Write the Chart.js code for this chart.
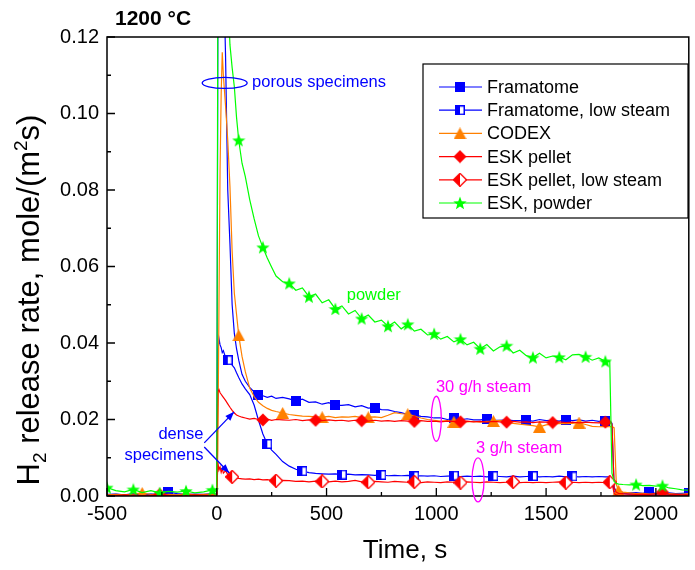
<!DOCTYPE html>
<html>
<head>
<meta charset="utf-8">
<script src="https://cdn.jsdelivr.net/npm/chart.js@4.4.1/dist/chart.umd.min.js"></script>
<style>
  html, body { margin: 0; padding: 0; background: #fff; }
  canvas { display: block; }
</style>
</head>
<body>
<canvas id="h2Chart" width="695" height="570"></canvas>
<script>
// time axis shared by all runs, s
const timeS = [
  -500, -460, -420, -380, -340, -300, -260, -220, -180, -140, -100, -60, -20,
  -5, 0, 5, 10, 15, 20, 25, 30, 40, 50, 60, 70, 80, 90, 100, 115, 130, 150, 170, 190, 210, 230, 250, 270, 300,
  330, 360, 390, 420, 450, 480, 510, 540, 570, 600, 630, 660, 690, 720, 750, 780, 810, 840, 870, 900,
  930, 960, 990, 1020, 1050, 1080, 1110, 1140, 1170, 1200, 1230, 1260, 1290, 1320, 1350, 1380, 1410,
  1440, 1470, 1500, 1530, 1560, 1590, 1620, 1650, 1680, 1710, 1740, 1770,
  1790, 1800, 1810, 1820, 1830, 1850,
  1880, 1910, 1940, 1970, 2000, 2030, 2060, 2090, 2120, 2150
];

// H2 release rate, mole/(m2 s)
const frRate = [
  0.0004, 0.0005, 0.0003, 0.0006, 0.0004, 0.0005, 0.0004, 0.0010, 0.0006, 0.0004, 0.0005, 0.0004, 0.0006,
  0.0005, 0.0006, 0.125, 0.150, 0.155, 0.155, 0.150, 0.140, 0.115, 0.080, 0.066, 0.050, 0.0425, 0.0385, 0.0355, 0.0318, 0.0300, 0.0284, 0.0272, 0.0264, 0.0262, 0.0258, 0.0261, 0.0255, 0.0258,
  0.0254, 0.0249, 0.0253, 0.0245, 0.0246, 0.0240, 0.0244, 0.0237, 0.0237, 0.0239, 0.0233, 0.0236, 0.0230, 0.0231, 0.0226, 0.0225, 0.0221, 0.0218, 0.0213, 0.0212,
  0.0208, 0.0207, 0.0204, 0.0204, 0.0200, 0.0203, 0.0199, 0.0202, 0.0199, 0.0199, 0.0201, 0.0198, 0.0198, 0.0199, 0.0197, 0.0197, 0.0198,
  0.0196, 0.0200, 0.0197, 0.0198, 0.0196, 0.0200, 0.0197, 0.0199, 0.0196, 0.0198, 0.0195, 0.0197,
  0.0196, 0.0190, 0.0022, 0.0012, 0.0010, 0.0009,
  0.0008, 0.0009, 0.0007, 0.0010, 0.0007, 0.0006, 0.0008, 0.0006, 0.0007, 0.0008
];
const frLowRate = [
  0.0003, 0.0004, 0.0003, 0.0004, 0.0003, 0.0004, 0.0003, 0.0004, 0.0003, 0.0004, 0.0003, 0.0003, 0.0004,
  0.0004, 0.0004, 0.0380, 0.0412, 0.0395, 0.0388, 0.0375, 0.0380, 0.0362, 0.0355, 0.0350, 0.0342, 0.0335, 0.0322, 0.0310, 0.0293, 0.0280, 0.0265, 0.0238, 0.0198, 0.0162, 0.0136, 0.0120, 0.0109, 0.0090,
  0.0078, 0.0070, 0.0065, 0.0061, 0.0059, 0.0058, 0.0057, 0.0058, 0.0056, 0.0057, 0.0055, 0.0056, 0.0055, 0.0054, 0.0055, 0.0053, 0.0054, 0.0053, 0.0054, 0.0052,
  0.0053, 0.0052, 0.0053, 0.0051, 0.0052, 0.0053, 0.0051, 0.0052, 0.0051, 0.0052, 0.0050, 0.0052, 0.0051, 0.0050, 0.0052, 0.0050, 0.0051,
  0.0052, 0.0050, 0.0051, 0.0050, 0.0052, 0.0050, 0.0051, 0.0050, 0.0051, 0.0050, 0.0051, 0.0050,
  0.0050, 0.0045, 0.0012, 0.0008, 0.0007, 0.0006,
  0.0005, 0.0006, 0.0005, 0.0004, 0.0005, 0.0004, 0.0005, 0.0004, 0.0005, 0.0004
];
const codexRate = [
  0.0003, 0.0004, 0.0003, 0.0005, 0.0008, 0.0004, 0.0003, 0.0004, 0.0003, 0.0006, 0.0003, 0.0004, 0.0005,
  0.0004, 0.0005, 0.0120, 0.0500, 0.0850, 0.1050, 0.1160, 0.1100, 0.1020, 0.0930, 0.0810, 0.0640, 0.0530, 0.0475, 0.0420, 0.0365, 0.0325, 0.0282, 0.0260, 0.0245, 0.0236, 0.0229, 0.0224, 0.0221, 0.0217,
  0.0213, 0.0211, 0.0209, 0.0208, 0.0207, 0.0206, 0.0208, 0.0205, 0.0207, 0.0206, 0.0208, 0.0205, 0.0206, 0.0207, 0.0205, 0.0211, 0.0218, 0.0215, 0.0214, 0.0209,
  0.0204, 0.0200, 0.0198, 0.0196, 0.0197, 0.0194, 0.0196, 0.0194, 0.0195, 0.0193, 0.0195, 0.0196, 0.0198, 0.0193, 0.0190, 0.0188, 0.0186,
  0.0184, 0.0181, 0.0186, 0.0188, 0.0190, 0.0189, 0.0190, 0.0192, 0.0187, 0.0182, 0.0181, 0.0182,
  0.0181, 0.0182, 0.0178, 0.0030, 0.0014, 0.0010,
  0.0008, 0.0006, 0.0007, 0.0005, 0.0006, 0.0005, 0.0006, 0.0005, 0.0005, 0.0006
];
const eskRate = [
  0.0002, 0.0001, 0.0003, 0.0002, 0.0001, 0.0002, 0.0004, 0.0002, 0.0001, 0.0002, 0.0003, 0.0002, 0.0002,
  0.0002, 0.0003, 0.0272, 0.0278, 0.0270, 0.0266, 0.0262, 0.0258, 0.0250, 0.0241, 0.0232, 0.0224, 0.0217, 0.0212, 0.0209, 0.0206, 0.0204, 0.0201, 0.0203, 0.0200, 0.0199, 0.0201, 0.0198, 0.0200, 0.0199,
  0.0198, 0.0200, 0.0197, 0.0199, 0.0198, 0.0197, 0.0199, 0.0197, 0.0198, 0.0196, 0.0198, 0.0197, 0.0196, 0.0198, 0.0196, 0.0197, 0.0195, 0.0197, 0.0196, 0.0195,
  0.0197, 0.0195, 0.0196, 0.0194, 0.0196, 0.0195, 0.0194, 0.0196, 0.0194, 0.0195, 0.0193, 0.0195, 0.0194, 0.0193, 0.0195, 0.0193, 0.0194,
  0.0192, 0.0194, 0.0193, 0.0192, 0.0194, 0.0192, 0.0193, 0.0191, 0.0193, 0.0192, 0.0191, 0.0193,
  0.0192, 0.0188, 0.0020, 0.0010, 0.0007, 0.0006,
  0.0005, 0.0004, 0.0005, 0.0004, 0.0006, 0.0010, 0.0005, 0.0004, 0.0003, 0.0004
];
const eskLowRate = [
  0.0001, 0.0002, 0.0001, 0.0002, 0.0001, 0.0002, 0.0001, 0.0002, 0.0001, 0.0002, 0.0001, 0.0002, 0.0001,
  0.0001, 0.0002, 0.0088, 0.0068, 0.0076, 0.0062, 0.0072, 0.0060, 0.0066, 0.0056, 0.0053, 0.0050, 0.0049, 0.0047, 0.0046, 0.0045, 0.0044, 0.0045, 0.0043, 0.0044, 0.0042, 0.0043, 0.0041, 0.0040, 0.0041,
  0.0040, 0.0038, 0.0039, 0.0037, 0.0039, 0.0038, 0.0037, 0.0039, 0.0037, 0.0038, 0.0041, 0.0037, 0.0036, 0.0038, 0.0037, 0.0036, 0.0038, 0.0037, 0.0036, 0.0037,
  0.0035, 0.0037, 0.0036, 0.0035, 0.0037, 0.0036, 0.0035, 0.0037, 0.0036, 0.0035, 0.0037, 0.0036, 0.0035, 0.0036, 0.0037, 0.0035, 0.0036,
  0.0035, 0.0036, 0.0035, 0.0036, 0.0037, 0.0035, 0.0036, 0.0035, 0.0036, 0.0035, 0.0036, 0.0035,
  0.0036, 0.0034, 0.0006, 0.0003, 0.0002, 0.0002,
  0.0002, 0.0001, 0.0002, 0.0001, 0.0002, 0.0001, 0.0002, 0.0001, 0.0002, 0.0001
];
const powderRate = [
  0.0022, 0.0014, 0.0011, 0.0017, 0.0009, 0.0014, 0.0008, 0.0012, 0.0010, 0.0013, 0.0008, 0.0011, 0.0016,
  0.0012, 0.0013, 0.140, 0.150, 0.155, 0.158, 0.157, 0.155, 0.145, 0.132, 0.118, 0.112, 0.107, 0.099, 0.093, 0.087, 0.0835, 0.0775, 0.0725, 0.0680, 0.0650, 0.0622, 0.0598, 0.0575, 0.0560,
  0.0556, 0.0538, 0.0544, 0.0521, 0.0528, 0.0505, 0.0513, 0.0489, 0.0497, 0.0476, 0.0485, 0.0464, 0.0473, 0.0455, 0.0460, 0.0444, 0.0455, 0.0437, 0.0449, 0.0431,
  0.0436, 0.0421, 0.0424, 0.0410, 0.0417, 0.0403, 0.0410, 0.0395, 0.0402, 0.0385, 0.0396, 0.0379, 0.0390, 0.0393, 0.0374, 0.0381, 0.0367,
  0.0362, 0.0373, 0.0361, 0.0366, 0.0363, 0.0356, 0.0369, 0.0370, 0.0364, 0.0355, 0.0361, 0.0352,
  0.0352, 0.0060, 0.0038, 0.0033, 0.0031, 0.0030,
  0.0029, 0.0030, 0.0027, 0.0028, 0.0026, 0.0027, 0.0021, 0.0019, 0.0016, 0.0015
];

// times at which a symbol sits on each curve
const frMarks = [-220, 190, 360, 540, 720, 900, 1080, 1230, 1410, 1590, 1770, 1970, 2150];
const frLowMarks = [50, 230, 390, 570, 750, 900, 1080, 1260, 1440, 1620];
const codexMarks = [-340, -140, 100, 300, 480, 690, 870, 1080, 1260, 1470, 1650, 1830];
const eskMarks = [-260, 210, 450, 660, 900, 1110, 1320, 1530, 1770, 2030];
const eskLowMarks = [70, 270, 480, 690, 900, 1110, 1350, 1590, 1790];
const powderMarks = [-500, -380, -260, -140, -20, 100, 210, 330, 420, 540, 660, 780, 870, 990, 1110, 1200, 1320, 1440, 1560, 1680, 1770, 1910, 2030];

const xTicks = [-500, 0, 500, 1000, 1500, 2000];

const BLUE = '#0000ff', ORANGE = '#ff8000', RED = '#ff0000', GREEN = '#00ff00', MAGENTA = '#ff00ff';
const FONT = "'Liberation Sans', Arial, Helvetica, sans-serif";

// ---- symbol bitmaps ----
function markerCanvas(w, h, paint) {
  const c = document.createElement('canvas');
  c.width = w; c.height = h;
  paint(c.getContext('2d'), w, h);
  return c;
}
function diamondPath(g, w, h) {
  g.beginPath();
  g.moveTo(w / 2, 0.5); g.lineTo(w - 0.5, h / 2); g.lineTo(w / 2, h - 0.5); g.lineTo(0.5, h / 2);
  g.closePath();
}
const mkSquare = markerCanvas(10, 10, (g, w, h) => { g.fillStyle = BLUE; g.fillRect(0, 0, w, h); });
const mkSquareHalf = markerCanvas(10, 10, (g, w, h) => {
  g.fillStyle = BLUE; g.fillRect(0, 0, w, h);
  g.fillStyle = '#fff'; g.fillRect(w / 2, 1.5, w / 2 - 1.5, h - 3);
});
const mkTriangle = markerCanvas(13, 12, (g, w, h) => {
  g.fillStyle = ORANGE; g.beginPath();
  g.moveTo(w / 2, 0); g.lineTo(w, h); g.lineTo(0, h); g.closePath(); g.fill();
});
const mkDiamond = markerCanvas(14, 14, (g, w, h) => { g.fillStyle = RED; diamondPath(g, w, h); g.fill(); });
const mkDiamondHalf = markerCanvas(14, 14, (g, w, h) => {
  g.fillStyle = '#fff'; diamondPath(g, w, h); g.fill();
  g.save(); g.beginPath(); g.rect(0, 0, w / 2, h); g.clip();
  g.fillStyle = RED; diamondPath(g, w, h); g.fill(); g.restore();
  g.strokeStyle = RED; g.lineWidth = 1.3; diamondPath(g, w, h); g.stroke();
});
const mkStar = markerCanvas(14, 14, (g, w, h) => {
  g.fillStyle = GREEN; g.beginPath();
  for (let k = 0; k < 10; k++) {
    const r = k % 2 === 0 ? 7 : 2.9;
    const a = -Math.PI / 2 + k * Math.PI / 5;
    const px = w / 2 + r * Math.cos(a), py = h / 2 + 0.6 + r * Math.sin(a);
    if (k === 0) g.moveTo(px, py); else g.lineTo(px, py);
  }
  g.closePath(); g.fill();
});

const seriesDefs = [
  ['Framatome', frRate, frMarks, BLUE, mkSquare],
  ['Framatome, low steam', frLowRate, frLowMarks, BLUE, mkSquareHalf],
  ['CODEX', codexRate, codexMarks, ORANGE, mkTriangle],
  ['ESK pellet', eskRate, eskMarks, RED, mkDiamond],
  ['ESK pellet, low steam', eskLowRate, eskLowMarks, RED, mkDiamondHalf],
  ['ESK, powder', powderRate, powderMarks, GREEN, mkStar]
];

const datasets = seriesDefs.map(([label, vals, marks, color, marker], i) => ({
  label,
  order: seriesDefs.length - i,
  data: timeS.map((t, k) => ({ x: t, y: vals[k] })),
  borderColor: color,
  backgroundColor: color,
  borderWidth: 1.2,
  tension: 0,
  pointStyle: marker,
  pointRadius: c => (c.raw && marks.includes(c.raw.x)) ? 5 : 0,
  pointHoverRadius: 0
}));

// frame, inward ticks, titles, legend and notes
const decorations = {
  id: 'decorations',
  afterDatasetsDraw(chart) {
    const { ctx, chartArea: a, scales: { x, y } } = chart;
    const px = v => x.getPixelForValue(v), py = v => y.getPixelForValue(v);
    ctx.save();

    ctx.strokeStyle = '#000';
    ctx.lineWidth = 1.5;
    ctx.strokeRect(a.left, a.top, a.right - a.left, a.bottom - a.top);

    ctx.lineWidth = 1.3;
    ctx.beginPath();
    for (let k = 0; k <= 12; k++) {
      const yy = py(k * 0.01);
      ctx.moveTo(a.left, yy); ctx.lineTo(a.left + (k % 2 === 0 ? 8 : 4), yy);
    }
    for (let t = -500; t <= 2150; t += 250) {
      const xx = px(t);
      ctx.moveTo(xx, a.bottom); ctx.lineTo(xx, a.bottom - (t % 500 === 0 ? 8 : 4));
    }
    ctx.stroke();

    // heading and axis titles
    ctx.fillStyle = '#000';
    ctx.textBaseline = 'middle';
    ctx.textAlign = 'left';
    ctx.font = `bold 21px ${FONT}`;
    ctx.fillText('1200 °C', 115, 19);

    ctx.textAlign = 'center';
    ctx.font = `26px ${FONT}`;
    ctx.fillText('Time, s', 405, 551);

    const parts = [['H', 31, 0], ['2', 19, 7], [' release rate, mole/(m', 31, 0], ['2', 19, -12], ['s)', 31, 0]];
    ctx.save();
    ctx.translate(39, 300);
    ctx.rotate(-Math.PI / 2);
    ctx.textAlign = 'left';
    ctx.textBaseline = 'alphabetic';
    let total = 0;
    parts.forEach(([s, f]) => { ctx.font = `${f}px ${FONT}`; total += ctx.measureText(s).width; });
    let cx = -total / 2;
    parts.forEach(([s, f, dy]) => {
      ctx.font = `${f}px ${FONT}`;
      ctx.fillText(s, cx, dy);
      cx += ctx.measureText(s).width;
    });
    ctx.restore();

    // legend
    const lx = 423, ly = 64, lw = 265, lh = 154;
    ctx.fillStyle = '#fff';
    ctx.fillRect(lx, ly, lw, lh);
    ctx.lineWidth = 1.2;
    ctx.strokeStyle = '#000';
    ctx.strokeRect(lx, ly, lw, lh);
    ctx.font = `18px ${FONT}`;
    ctx.textAlign = 'left';
    ctx.textBaseline = 'middle';
    seriesDefs.forEach(([label, , , color, marker], i) => {
      const yy = 87 + i * 23.2;
      ctx.strokeStyle = color;
      ctx.lineWidth = 1.2;
      ctx.beginPath(); ctx.moveTo(439, yy); ctx.lineTo(482, yy); ctx.stroke();
      ctx.drawImage(marker, 460 - marker.width / 2, yy - marker.height / 2);
      ctx.fillStyle = '#000';
      ctx.fillText(label, 487, yy + 1);
    });

    // notes on the plot
    ctx.font = `16.5px ${FONT}`;
    ctx.lineWidth = 1.3;
    const ellipse = (t, v, rx, ry, color) => {
      ctx.strokeStyle = color;
      ctx.beginPath(); ctx.ellipse(px(t), py(v), rx, ry, 0, 0, 2 * Math.PI); ctx.stroke();
    };
    const arrow = (t0, v0, t1, v1) => {
      const x0 = px(t0), y0 = py(v0), x1 = px(t1), y1 = py(v1);
      const ang = Math.atan2(y1 - y0, x1 - x0);
      ctx.strokeStyle = BLUE; ctx.fillStyle = BLUE;
      ctx.beginPath(); ctx.moveTo(x0, y0); ctx.lineTo(x1, y1); ctx.stroke();
      ctx.beginPath();
      ctx.moveTo(x1, y1);
      ctx.lineTo(x1 - 9 * Math.cos(ang) + 3.5 * Math.sin(ang), y1 - 9 * Math.sin(ang) - 3.5 * Math.cos(ang));
      ctx.lineTo(x1 - 9 * Math.cos(ang) - 3.5 * Math.sin(ang), y1 - 9 * Math.sin(ang) + 3.5 * Math.cos(ang));
      ctx.closePath(); ctx.fill();
    };

    ellipse(36, 0.108, 22.5, 5.5, BLUE);
    ctx.fillStyle = BLUE;
    ctx.textAlign = 'left';
    ctx.fillText('porous specimens', px(161), py(0.108));

    ctx.fillStyle = GREEN;
    ctx.fillText('powder', px(592), py(0.0523));

    ctx.fillStyle = MAGENTA;
    ctx.fillText('30 g/h steam', px(998), py(0.0285));
    ellipse(1000, 0.0202, 5, 22.5, MAGENTA);
    ctx.fillStyle = MAGENTA;
    ctx.fillText('3 g/h steam', px(1181), py(0.0123));
    ellipse(1190, 0.0042, 6, 22, MAGENTA);

    ctx.fillStyle = BLUE;
    ctx.textAlign = 'right';
    ctx.fillText('dense', px(-61), py(0.0160));
    ctx.fillText('specimens', px(-61), py(0.0105));
    arrow(-57, 0.0139, 79, 0.0220);
    arrow(-57, 0.0128, 57, 0.0060);

    ctx.restore();
  }
};

new Chart(document.getElementById('h2Chart'), {
  type: 'line',
  data: { datasets },
  options: {
    responsive: false,
    animation: false,
    events: [],
    layout: { padding: { left: 0, right: 3, top: 37, bottom: 0 } },
    plugins: { legend: { display: false }, tooltip: { enabled: false } },
    scales: {
      x: {
        type: 'linear',
        min: -500,
        max: 2150,
        grid: { display: false, drawTicks: false },
        border: { display: false },
        afterBuildTicks: s => { s.ticks = xTicks.map(v => ({ value: v })); },
        ticks: {
          autoSkip: false,
          maxRotation: 0,
          padding: 6,
          color: '#000',
          font: { family: FONT, size: 20 },
          callback: v => String(v)
        },
        afterFit: s => { s.height = 74; }
      },
      y: {
        min: 0,
        max: 0.12,
        grid: { display: false, drawTicks: false },
        border: { display: false },
        ticks: {
          stepSize: 0.02,
          padding: 8,
          color: '#000',
          font: { family: FONT, size: 20 },
          callback: v => v.toFixed(2)
        },
        afterFit: s => { s.width = 107; }
      }
    }
  },
  plugins: [decorations]
});
</script>
</body>
</html>
